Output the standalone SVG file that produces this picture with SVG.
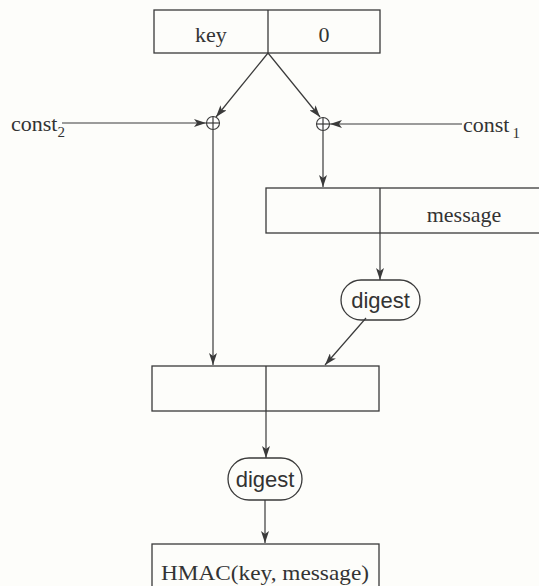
<svg xmlns="http://www.w3.org/2000/svg" width="539" height="586" viewBox="0 0 539 586">
  <style>
    .box { fill: none; stroke: #3a3a3a; stroke-width: 1.3; }
    .line { fill: none; stroke: #3a3a3a; stroke-width: 1.2; }
    .serif { font-family: "Liberation Serif", "Times New Roman", serif; font-size: 22px; fill: #333; }
    .sans { font-family: "Liberation Sans", Arial, sans-serif; font-size: 22px; fill: #333; }
    .xor { fill: #fff; stroke: #3a3a3a; stroke-width: 1.1; }
  </style>
  <defs>
    <marker id="arrow" viewBox="0 0 12 8" refX="12" refY="4" markerWidth="12" markerHeight="8" markerUnits="userSpaceOnUse" orient="auto">
      <path d="M0,0 L12,4 L0,8 L3,4 Z" fill="#3a3a3a"/>
    </marker>
  </defs>
  <rect width="539" height="586" fill="#fdfdfa"/>

  <g id="connectors">
    <line class="line" x1="268" y1="53" x2="216" y2="117" marker-end="url(#arrow)"/>
    <line class="line" x1="268" y1="53" x2="320" y2="117" marker-end="url(#arrow)"/>
    <line class="line" x1="62" y1="123" x2="206" y2="123" marker-end="url(#arrow)"/>
    <line class="line" x1="462" y1="124" x2="330" y2="124" marker-end="url(#arrow)"/>
    <line class="line" x1="213" y1="130" x2="213" y2="365" marker-end="url(#arrow)"/>
    <line class="line" x1="323" y1="131" x2="323" y2="187" marker-end="url(#arrow)"/>
    <line class="line" x1="380" y1="233" x2="380" y2="280" marker-end="url(#arrow)"/>
    <line class="line" x1="366" y1="318" x2="325" y2="365" marker-end="url(#arrow)"/>
    <line class="line" x1="266" y1="411" x2="266" y2="458" marker-end="url(#arrow)"/>
    <line class="line" x1="265" y1="500" x2="265" y2="543" marker-end="url(#arrow)"/>
  </g>

  <g id="key-block">
    <rect class="box" x="154" y="10" width="226" height="43"/>
    <line class="box" x1="268" y1="10" x2="268" y2="53"/>
    <text class="serif" x="211" y="42" text-anchor="middle">key</text>
    <text class="serif" x="324" y="42" text-anchor="middle">0</text>
  </g>

  <g id="xor-left">
    <circle class="xor" cx="213" cy="123" r="6.5"/>
    <line class="line" x1="206.5" y1="123" x2="219.5" y2="123"/>
    <line class="line" x1="213" y1="116.5" x2="213" y2="129.5"/>
  </g>

  <g id="xor-right">
    <circle class="xor" cx="323" cy="124" r="6.5"/>
    <line class="line" x1="316.5" y1="124" x2="329.5" y2="124"/>
    <line class="line" x1="323" y1="117.5" x2="323" y2="130.5"/>
  </g>

  <g id="const2">
    <text class="serif" x="11" y="131">const<tspan font-size="15" dy="6">2</tspan></text>
  </g>

  <g id="const1">
    <text class="serif" x="463" y="132">const<tspan font-size="15" dy="6" dx="3">1</tspan></text>
  </g>

  <g id="message-block">
    <rect class="box" x="266" y="188" width="280" height="45"/>
    <line class="box" x1="380" y1="188" x2="380" y2="233"/>
    <text class="serif" x="464" y="222" text-anchor="middle">message</text>
  </g>

  <g id="digest-inner">
    <rect class="box" x="341" y="280" width="79" height="40" rx="20"/>
    <text class="sans" x="380.5" y="308" text-anchor="middle">digest</text>
  </g>

  <g id="outer-block">
    <rect class="box" x="152" y="366" width="227" height="45"/>
    <line class="box" x1="266" y1="366" x2="266" y2="411"/>
  </g>

  <g id="digest-outer">
    <rect class="box" x="228" y="458" width="74" height="42" rx="21"/>
    <text class="sans" x="265" y="487" text-anchor="middle">digest</text>
  </g>

  <g id="hmac">
    <rect class="box" x="152" y="544" width="227" height="50"/>
    <text class="serif" x="265" y="580" text-anchor="middle" textLength="208" lengthAdjust="spacingAndGlyphs">HMAC(key, message)</text>
  </g>
</svg>
